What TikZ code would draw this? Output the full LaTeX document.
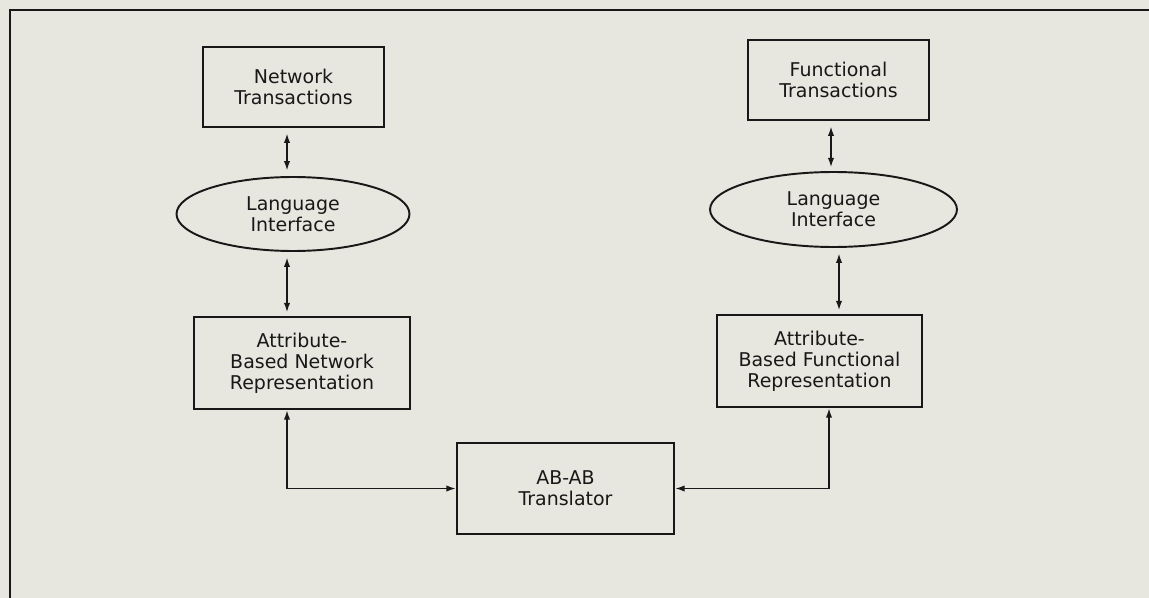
\documentclass[tikz,border=0pt]{standalone}
\usepackage{fontspec}
\setmainfont{DejaVu Sans}
\usepackage{xcolor}
\usetikzlibrary{positioning,arrows.meta,shapes.geometric}

\definecolor{paper}{RGB}{231,231,223}
\definecolor{ink}{RGB}{24,24,24}

\begin{document}
\begin{tikzpicture}[x=0.02cm,y=-0.02cm,>={Latex[length=5.5pt,width=3.6pt]},ink,
    box/.style={draw,line width=1.1pt,rectangle,align=center,inner sep=0pt},
    oval/.style={draw,line width=1.1pt,ellipse,align=center,inner sep=0pt},
    link/.style={line width=1pt,<->},
    font=\fontsize{10.8}{12}\selectfont]
            \useasboundingbox (0,0) rectangle (1149,598);
            \fill[paper] (0,0) rectangle (1149,598);
            \draw[line width=1.1pt] (10,610) -- (10,10) -- (1160,10);
            % left column
            \node[box,minimum width=3.62cm,minimum height=1.6cm] (ntr) at (293.5,87) {Network\\Transactions};
            \node[oval,minimum width=4.66cm,minimum height=1.48cm] (nli) at (293,214) {Language\\Interface};
            \node[box,minimum width=4.32cm,minimum height=1.84cm] (abn) at (302,363) {Attribute-\\Based Network\\Representation};
            % right column
            \node[box,minimum width=3.62cm,minimum height=1.6cm] (ftr) at (838.5,80) {Functional\\Transactions};
            \node[oval,minimum width=4.94cm,minimum height=1.5cm] (fli) at (833.5,209.5) {Language\\Interface};
            \node[box,minimum width=4.1cm,minimum height=1.84cm] (abf) at (819.5,361) {Attribute-\\Based Functional\\Representation};
            % translator
            \node[box,minimum width=4.34cm,minimum height=1.82cm] (abt) at (565.5,488.5) {AB-AB\\Translator};
            \coordinate (lcol) at (287,0);
            \coordinate (rtop) at (831,0);
            \coordinate (rmid) at (839,0);
            \coordinate (rbot) at (829,0);
            \draw[link,shorten <=3pt,shorten >=3pt] (ntr.south -| lcol) -- (nli.north -| lcol);
            \draw[link,shorten <=3pt,shorten >=2pt] (nli.south -| lcol) -- (abn.north -| lcol);
            \draw[link] (abn.south -| lcol) |- (abt.west);
            \draw[link,shorten <=3pt,shorten >=2pt] (ftr.south -| rtop) -- (fli.north -| rtop);
            \draw[link,shorten <=3pt,shorten >=2pt] (fli.south -| rmid) -- (abf.north -| rmid);
            \draw[link] (abf.south -| rbot) |- (abt.east);
          \end{tikzpicture}
\end{document}
